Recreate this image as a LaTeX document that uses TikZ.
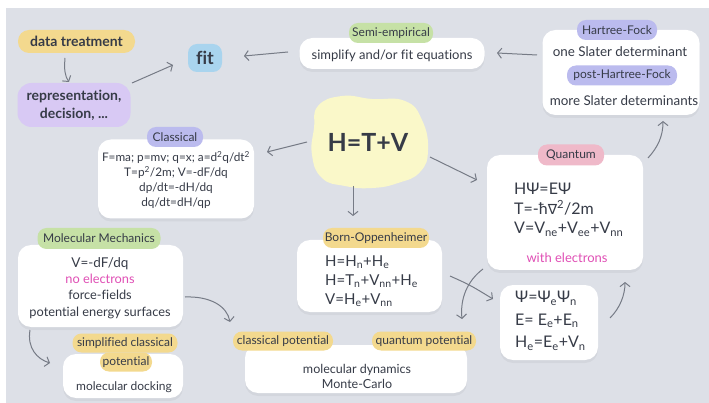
\documentclass[tikz,border=0pt]{standalone}
\usepackage{fontspec}
\setmainfont{Lato}[Ligatures=NoCommon]
\newfontfamily\symf{DejaVu Sans}
\usetikzlibrary{arrows.meta}
\definecolor{bg}{HTML}{DDE0E7}
\definecolor{ink}{HTML}{363B47}
\definecolor{arrc}{HTML}{767B86}
\definecolor{yel}{HTML}{F3D98E}
\definecolor{lil}{HTML}{D8C9F4}
\definecolor{vio}{HTML}{BBBBEE}
\definecolor{blu}{HTML}{A9D4EE}
\definecolor{grn}{HTML}{C6E1A6}
\definecolor{pnk}{HTML}{EFB9C9}
\definecolor{mag}{HTML}{E04FB5}
\definecolor{blobc}{HTML}{FAF8C9}
\newcommand{\fs}[2]{\fontsize{#1}{#2}\selectfont}
\newcommand{\sub}[1]{\textsubscript{#1}}
\newcommand{\sups}[1]{\textsuperscript{#1}}
\tikzset{
  box/.style={fill=white, rounded corners=13pt, inner sep=0pt,
    preaction={fill=black, opacity=0.045, transform canvas={yshift=-3pt}}},
  pill/.style={fill=#1, rounded corners=9pt, inner sep=0pt, minimum height=20pt, text=ink, font=\fs{12}{14}},
  txt/.style={text=ink, inner sep=0pt, font=\fs{12.5}{15}},
  arr/.style={draw=arrc, line width=1pt, -{Straight Barb[length=4pt,width=10pt]}},
}
\begin{document}
\begin{tikzpicture}[x=1pt,y=-1pt]
\fill[white] (0,0) rectangle (709,403);
\fill[bg] (6,8) rectangle (709,403);
\useasboundingbox (0,0) rectangle (709,403);

% left bold labels
\node[pill=yel, minimum width=117pt, minimum height=23pt, rounded corners=11pt, font=\bfseries\fs{14}{16}] (dt) at (76.5,41.5) {data treatment};
\node[pill=lil, align=center, minimum width=113pt, minimum height=44pt, rounded corners=14pt, font=\bfseries\fs{14}{18}] (rep) at (74,105) {representation,\\decision, ...};
\node[pill=blu, minimum width=34pt, minimum height=28pt, rounded corners=9pt, font=\bfseries\fs{18}{20}] (fit) at (205,58) {fit};

% semi-empirical
\node[box, minimum width=185pt, minimum height=31pt] (semib) at (392,53.5) {};
\node[txt, font=\fs{13}{15}] (semit) at (392,56) {simplify and/or fit equations};
\node[pill=grn, minimum width=84pt] (semip) at (391,33) {Semi-empirical};

% Hartree-Fock
\node[box, minimum width=157pt, minimum height=85pt] (hfb) at (621,72.5) {};
\node[pill=vio, minimum width=80pt] (hf1) at (617,30) {Hartree-Fock};
\node[txt, font=\fs{13.4}{15}] (hft1) at (620,52) {one Slater determinant};
\node[pill=vio, minimum width=110pt] (hf2) at (622,75.5) {post-Hartree-Fock};
\node[txt, font=\fs{13.4}{15}] (hft2) at (624,101) {more Slater determinants};

% H=T+V blob
\fill[blobc] plot[smooth cycle, tension=0.8] coordinates {(318,106) (342,96) (372,99) (405,101) (422,120) (428,150) (420,172) (398,183) (372,188) (345,186) (322,178) (312,155) (314,128)};
\node[txt, font=\bfseries\fs{25}{28}] (htv) at (368,142) {H=T+V};

% Classical
\node[box, minimum width=156pt, minimum height=79pt] (clb) at (176,179) {};
\node[pill=vio, minimum width=56pt] (clp) at (175,137) {Classical};
\node[txt, align=center, font=\fs{11.8}{14.8}] (clt) at (176,180) {F=ma; p=mv; q=x; a=d\sups{2}q/dt\sups{2}\\T=p\sups{2}/2m; V=-dF/dq\\dp/dt=-dH/dq\\dq/dt=dH/qp};

% Quantum
\node[box, minimum width=156pt, minimum height=115pt] (qb) at (565,212.5) {};
\node[pill=pnk, minimum width=66pt, minimum height=21pt] (qp) at (571,155) {Quantum};
\node[txt, align=left, anchor=west, font=\fs{16}{19.5}] (qt) at (514,210) {HΨ=EΨ\\T=-ħ{\symf\fs{14}{19.5}∇}\sups{2}/2m\\V=V\sub{ne}+V\sub{ee}+V\sub{nn}};
\node[txt, text=mag, font=\fs{13}{15}] (qe) at (567,258) {with electrons};

% Molecular Mechanics
\node[box, minimum width=165pt, minimum height=82pt] (mmb) at (100.5,286) {};
\node[pill=grn, minimum width=123pt, minimum height=21pt] (mmp) at (99,238.5) {Molecular Mechanics};
\node[txt, align=center, font=\fs{12.8}{16.3}] (mmt) at (100,288) {{\fs{13.5}{16.3}V=-dF/dq}\\{\color{mag}no electrons}\\force-fields\\potential energy surfaces};

% docking
\node[box, minimum width=120pt, minimum height=44pt] (dkb) at (123,376) {};
\node[pill=yel, minimum width=105pt, minimum height=19pt] (dkp1) at (125,343) {simplified classical};
\node[pill=yel, minimum width=52pt, minimum height=19pt] (dkp2) at (126,362) {potential};
\node[txt, font=\fs{12}{14}] (dkt) at (124,387) {molecular docking};

% Born-Oppenheimer
\node[box, minimum width=145pt, minimum height=72pt] (bob) at (369.5,276) {};
\node[pill=yel, minimum width=106pt] (bop) at (376,238) {Born-Oppenheimer};
\node[txt, align=left, anchor=west, font=\fs{15}{19}] (bot) at (325,281) {H=H\sub{n}+H\sub{e}\\H=T\sub{n}+V\sub{nn}+H\sub{e}\\V=H\sub{e}+V\sub{nn}};

% molecular dynamics
\node[box, minimum width=222pt, minimum height=48pt] (mdb) at (356,369) {};
\node[pill=yel, minimum width=100pt, minimum height=19pt] (cpp) at (283,341) {classical potential};
\node[pill=yel, minimum width=104pt, minimum height=19pt] (qpp) at (424,341) {quantum potential};
\node[txt, align=center, font=\fs{12.5}{15}] (mdt) at (357,376) {molecular dynamics\\Monte-Carlo};

% Psi box
\node[box, minimum width=98pt, minimum height=75pt] (psb) at (549,322.5) {};
\node[txt, align=left, anchor=west, font=\fs{16}{22.5}] (pst) at (515,321) {Ψ=Ψ\sub{e}Ψ\sub{n}\\E= E\sub{e}+E\sub{n}\\H\sub{e}=E\sub{e}+V\sub{n}};

% connector ends
\coordinate (a1s) at (65,58);   \coordinate (a1e) at (69,82);
\coordinate (a2s) at (132,83);  \coordinate (a2e) at (173,65);
\coordinate (a3s) at (288,52);  \coordinate (a3e) at (244,56);
\coordinate (a4s) at (537,55);  \coordinate (a4e) at (497,53);
\coordinate (a5s) at (648,158); \coordinate (a5e) at (663,121);
\coordinate (a6s) at (307,142); \coordinate (a6e) at (267,152);
\coordinate (a7s) at (353,186); \coordinate (a7e) at (353,216);
\coordinate (a8s) at (430,157); \coordinate (a8e) at (477,180);
\coordinate (a9s) at (450,276); \coordinate (a9e) at (493,299);
\coordinate (a10s) at (483,269); \coordinate (a10e) at (462,319);
\coordinate (a11s) at (610,318); \coordinate (a11e) at (625,282);
\coordinate (a12s) at (185,297); \coordinate (a12e) at (230,322);
\coordinate (a13s) at (30,330); \coordinate (a13e) at (50,363);

\draw[arr] (a1s) .. controls (64,70) and (65,76) .. (a1e);
\draw[arr] (a2s) -- (a2e);
\draw[arr] (a3s) -- (a3e);
\draw[arr] (a4s) -- (a4e);
\draw[arr] (a5s) .. controls (658,147) and (663,136) .. (a5e);
\draw[arr] (a6s) -- (a6e);
\draw[arr] (a7s) -- (a7e);
\draw[arr] (a8s) -- (a8e);
\draw[arr] (a9s) .. controls (470,285) .. (a9e);
\draw[arr] (a10s) .. controls (467,281) and (460,299) .. (a10e);
\draw[arr] (a11s) .. controls (620,308) and (625,295) .. (a11e);
\draw[arr] (a12s) .. controls (210,296) and (227,306) .. (a12e);
\draw[arr] (a13s) .. controls (27,348) and (37,359) .. (a13e);
\end{tikzpicture}
\end{document}
